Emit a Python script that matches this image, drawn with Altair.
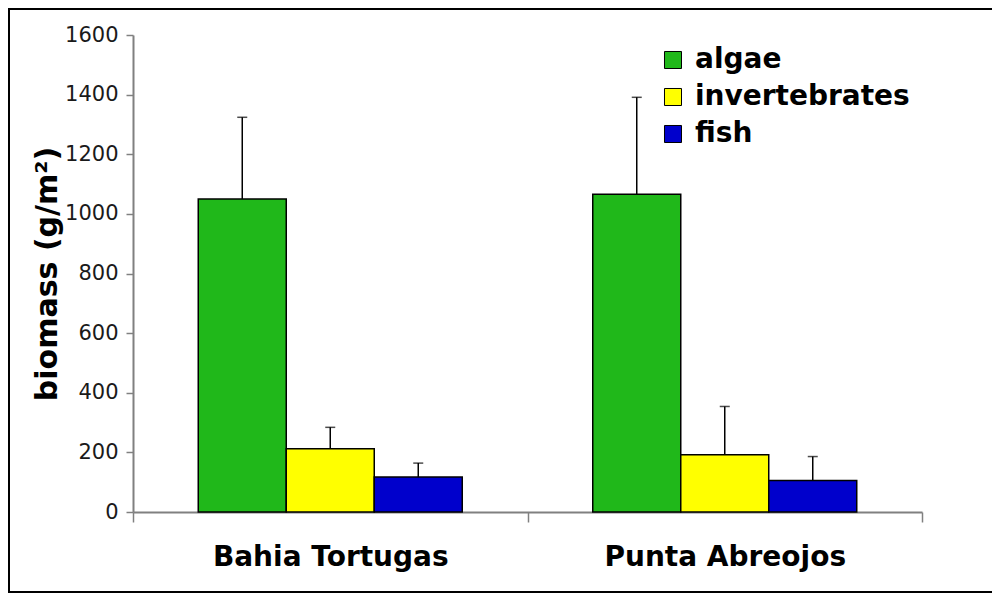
import altair as alt
import pandas as pd

sites = ["Bahia Tortugas", "Punta Abreojos"]
groups = ["algae", "invertebrates", "fish"]
bt_means = [1050, 212, 117]
bt_err = [274, 72, 47]
pa_means = [1066, 192, 106]
pa_err = [325, 162, 80]
colors = ["#20B81A", "#FFFF00", "#0000CC"]
y_ticks = [0, 200, 400, 600, 800, 1000, 1200, 1400, 1600]

rows = []
for site, means, errs in [(sites[0], bt_means, bt_err), (sites[1], pa_means, pa_err)]:
    for g, m, e in zip(groups, means, errs):
        rows.append({"site": site, "group": g, "mean": m, "upper": m + e})
df = pd.DataFrame(rows)

FONT = "DejaVu Sans"

x_enc = alt.X(
    "site:N",
    sort=sites,
    scale=alt.Scale(paddingInner=0, paddingOuter=0),
    axis=alt.Axis(
        title=None,
        tickBand="extent",
        tickSize=10,
        tickColor="#808080",
        tickWidth=1.5,
        domainColor="#808080",
        domainWidth=2,
        labelFont=FONT,
        labelFontSize=28,
        labelFontWeight="bold",
        labelColor="black",
        labelPadding=21,
        labelAngle=0,
        labelLimit=500,
    ),
)
xo_enc = alt.XOffset("group:N", sort=groups, scale=alt.Scale(paddingInner=0, paddingOuter=0.7415))
y_scale = alt.Scale(domain=[0, 1600], nice=False)

bars = alt.Chart(df).mark_bar(stroke="black", strokeWidth=1.5, opacity=1).encode(
    x=x_enc,
    xOffset=xo_enc,
    y=alt.Y(
        "mean:Q",
        scale=y_scale,
        axis=alt.Axis(
            values=y_ticks,
            format="d",
            title="biomass (g/m²)",
            titleFont=FONT,
            titleFontSize=30,
            titleFontWeight="bold",
            titleColor="black",
            titlePadding=2,
            labelFont=FONT,
            labelFontSize=21,
            labelColor="#1a1a1a",
            labelPadding=8,
            tickSize=7,
            tickColor="#808080",
            tickWidth=1.5,
            domainColor="#808080",
            domainWidth=2,
            grid=False,
        ),
    ),
    color=alt.Color(
        "group:N",
        sort=groups,
        scale=alt.Scale(domain=groups, range=colors),
        legend=alt.Legend(
            title=None,
            orient="none",
            legendX=526,
            legendY=11,
            symbolType="square",
            symbolSize=290,
            symbolStrokeColor="black",
            symbolStrokeWidth=1,
            symbolOpacity=1,
            labelFont=FONT,
            labelFontSize=28,
            labelFontWeight="bold",
            labelColor="black",
            labelOffset=8,
            rowPadding=9,
            labelLimit=400,
        ),
    ),
)

err_rule = alt.Chart(df).mark_rule(color="black", strokeWidth=1.5).encode(
    x=alt.X("site:N", sort=sites),
    xOffset=alt.XOffset("group:N", sort=groups),
    y=alt.Y("mean:Q", scale=y_scale),
    y2="upper:Q",
)

err_cap = alt.Chart(df).mark_tick(color="black", thickness=1.5, size=10).encode(
    x=alt.X("site:N", sort=sites),
    xOffset=alt.XOffset("group:N", sort=groups),
    y=alt.Y("upper:Q", scale=y_scale),
)

frame = alt.Chart(pd.DataFrame({"a": [0]})).mark_rect(
    fillOpacity=0, stroke="black", strokeWidth=2
).encode(
    x=alt.value(-124), x2=alt.value(863), y=alt.value(-26), y2=alt.value(557)
)

chart = alt.layer(bars, err_rule, err_cap, frame).properties(
    width=789,
    height=477,
    autosize=alt.AutoSizeParams(type="none"),
    padding={"left": 125, "top": 27, "right": 70, "bottom": 83},
).configure_view(stroke=None)

chart.save("out.html", embed_options={"renderer": "svg", "actions": False})
